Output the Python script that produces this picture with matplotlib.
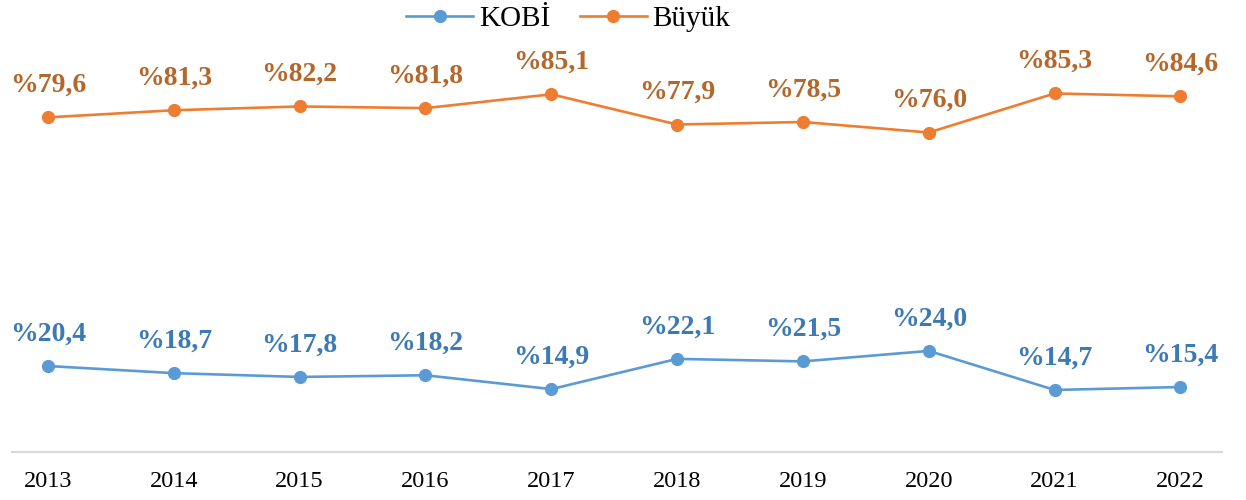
import matplotlib
matplotlib.use("Agg")
import matplotlib.pyplot as plt

years = ["2013", "2014", "2015", "2016", "2017", "2018", "2019", "2020", "2021", "2022"]
kobi = [20.4, 18.7, 17.8, 18.2, 14.9, 22.1, 21.5, 24.0, 14.7, 15.4]
buyuk = [79.6, 81.3, 82.2, 81.8, 85.1, 77.9, 78.5, 76.0, 85.3, 84.6]

plt.rcParams['font.family'] = ['Liberation Serif', 'DejaVu Serif']

fig = plt.figure(figsize=(12.46, 5.0), dpi=100)
ax = fig.add_axes([11.5 / 1246, 48.3 / 500, 1210.5 / 1246, 420 / 500])

x = list(range(len(years)))
series = [
    ("KOBİ", kobi, "#5B9BD5", "#3D7AB5"),
    ("Büyük", buyuk, "#ED7D31", "#B5672B"),
]
for name, vals, col, lab_col in series:
    ax.plot(x, vals, color=col, lw=1.9, marker="o", markersize=8.5, label=name)
    for xi, v in zip(x, vals):
        txt = "%" + f"{v:.1f}".replace(".", ",")
        ax.annotate(txt, (xi, v), xytext=(0, 23), textcoords="offset points",
                    ha="center", va="center", fontsize=20, fontweight="bold",
                    color=lab_col)

ax.set_xlim(-0.29, 9.33)
ax.set_ylim(0, 100)
ax.set_xticks(x)
ax.set_xticklabels(years, fontsize=17.5)
ax.set_yticks([])
ax.tick_params(axis="x", length=0, pad=14)
for s in ["top", "right", "left"]:
    ax.spines[s].set_visible(False)
ax.spines["bottom"].set_color("#D9D9D9")
ax.spines["bottom"].set_linewidth(1.5)

fig.legend(loc="center", bbox_to_anchor=(0.456, 0.962), ncol=2, frameon=False,
           fontsize=21, handlelength=2.3, handletextpad=0.2, columnspacing=1.0)

fig.savefig("out.png", dpi=100)
